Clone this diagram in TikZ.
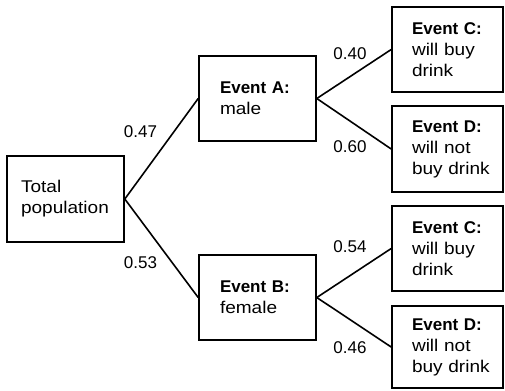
\documentclass[tikz,border=0pt]{standalone}
\usepackage{fontspec}
\setmainfont{Liberation Sans}
\newfontfamily\widefont[FakeStretch=1.12]{Liberation Sans}
\begin{document}
\begin{tikzpicture}[x=1bp,y=-1bp,
  every node/.style={font=\fontsize{17bp}{21bp}\selectfont},
  box/.style={draw,line width=1.6bp,rectangle,inner xsep=0pt,inner ysep=0pt,align=left},
  lbl/.style={inner sep=0pt},
  conn/.style={line width=1.6bp}]
\useasboundingbox (0,0) rectangle (505,390);
\node[box,minimum width=117bp,minimum height=86bp,text width=89bp] (T) at (65.5,199) {\widefont Total\\population};
\node[box,minimum width=117bp,minimum height=85bp,text width=75bp] (A) at (257.5,98.5) {\textbf{Event~A:}\\\widefont male};
\node[box,minimum width=117bp,minimum height=85bp,text width=75bp] (B) at (257.5,297.5) {\textbf{Event~B:}\\\widefont female};
\node[box,minimum width=111bp,minimum height=85bp,text width=71bp] (C1) at (447.5,49.5) {\textbf{Event~C:}\\\widefont will~buy\\drink};
\node[box,minimum width=111bp,minimum height=86bp,text width=71bp] (D1) at (447.5,149) {\textbf{Event~D:}\\\widefont will~not\\buy~drink};
\node[box,minimum width=111bp,minimum height=85bp,text width=71bp] (C2) at (447.5,248.5) {\textbf{Event~C:}\\\widefont will~buy\\drink};
\node[box,minimum width=111bp,minimum height=82bp,text width=71bp] (D2) at (447.5,347) {\textbf{Event~D:}\\\widefont will~not\\buy~drink};
\draw[conn] (T.east) -- (A.west);
\draw[conn] (T.east) -- (B.west);
\draw[conn] (A.east) -- (C1.west);
\draw[conn] (A.east) -- (D1.west);
\draw[conn] (B.east) -- (C2.west);
\draw[conn] (B.east) -- (D2.west);
\node[lbl] (p47) at (140.5,132) {0.47};
\node[lbl] (p53) at (140.5,263) {0.53};
\node[lbl] (p40) at (350,54) {0.40};
\node[lbl] (p60) at (350,147) {0.60};
\node[lbl] (p54) at (350,247) {0.54};
\node[lbl] (p46) at (350,348) {0.46};
\end{tikzpicture}
\end{document}
